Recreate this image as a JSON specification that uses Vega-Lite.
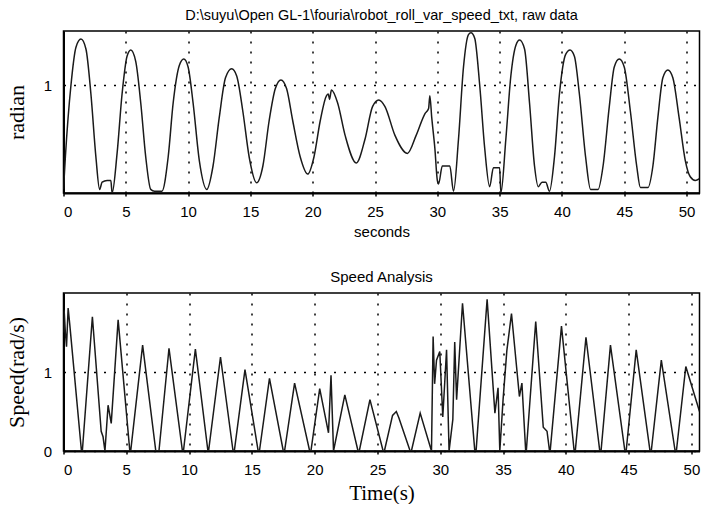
{
  "$schema": "https://vega.github.io/schema/vega-lite/v6.json",
  "background": "white",
  "padding": {"left": 4.5, "top": 6, "right": 0, "bottom": 0},
  "spacing": 29,
  "config": {
    "font": "Liberation Sans",
    "view": {"stroke": "black", "strokeWidth": 1.5},
    "axis": {
      "gridColor": "black", "gridDash": [2, 8], "gridWidth": 1.5, "gridOpacity": 1,
      "domainColor": "black", "domainWidth": 2,
      "tickColor": "black", "tickSize": 3, "tickWidth": 1.5,
      "labelFont": "Liberation Sans", "labelFontSize": 15, "labelColor": "black",
      "titleColor": "black", "titleFontWeight": "normal"
    },
    "title": {"font": "Liberation Sans", "fontSize": 14.5, "fontWeight": "normal", "color": "black"}
  },
  "vconcat": [
    {
      "width": 636,
      "height": 162,
      "title": {"text": "D:\\suyu\\Open GL-1\\fouria\\robot_roll_var_speed_txt, raw data", "offset": 8},
      "data": {"values": [
        {"t":0,"v":0.42},{"t":0.15,"v":0.6},{"t":0.6,"v":1.0},{"t":1.0,"v":1.21},{"t":1.4,"v":1.255},{"t":1.8,"v":1.2},{"t":2.2,"v":0.95},{"t":2.6,"v":0.6},{"t":2.9,"v":0.42},{"t":3.1,"v":0.46},{"t":3.5,"v":0.47},{"t":3.8,"v":0.47},{"t":3.9,"v":0.4},
        {"t":4.3,"v":0.62},{"t":4.7,"v":0.95},{"t":5.1,"v":1.16},{"t":5.4,"v":1.194},{"t":5.8,"v":1.13},{"t":6.2,"v":0.9},{"t":6.6,"v":0.6},{"t":7.0,"v":0.42},{"t":7.3,"v":0.41},{"t":7.9,"v":0.41},
        {"t":8.4,"v":0.6},{"t":8.8,"v":0.9},{"t":9.3,"v":1.11},{"t":9.65,"v":1.144},{"t":10.0,"v":1.1},{"t":10.4,"v":0.9},{"t":10.9,"v":0.58},{"t":11.5,"v":0.42},
        {"t":12.0,"v":0.55},{"t":12.5,"v":0.82},{"t":13.0,"v":1.04},{"t":13.5,"v":1.09},{"t":13.9,"v":1.05},{"t":14.4,"v":0.85},{"t":14.9,"v":0.6},{"t":15.5,"v":0.457},
        {"t":16.0,"v":0.55},{"t":16.5,"v":0.8},{"t":17.0,"v":0.98},{"t":17.45,"v":1.028},{"t":17.9,"v":0.98},{"t":18.4,"v":0.8},{"t":19.0,"v":0.6},{"t":19.6,"v":0.505},
        {"t":20.1,"v":0.6},{"t":20.6,"v":0.8},{"t":21.1,"v":0.94},{"t":21.25,"v":0.95},{"t":21.35,"v":0.92},{"t":21.5,"v":0.972},{"t":22.0,"v":0.9},{"t":22.6,"v":0.72},{"t":23.5,"v":0.567},
        {"t":24.2,"v":0.7},{"t":24.8,"v":0.88},{"t":25.3,"v":0.917},{"t":25.8,"v":0.88},{"t":26.6,"v":0.72},{"t":27.6,"v":0.62},
        {"t":28.3,"v":0.72},{"t":29.0,"v":0.84},{"t":29.3,"v":0.87},{"t":29.4,"v":0.94},{"t":29.55,"v":0.82},{"t":29.8,"v":0.65},{"t":30.0,"v":0.47},{"t":30.1,"v":0.45},{"t":30.4,"v":0.55},{"t":31.0,"v":0.55},{"t":31.3,"v":0.41},
        {"t":31.7,"v":0.7},{"t":32.1,"v":1.1},{"t":32.5,"v":1.28},{"t":32.7,"v":1.29},{"t":33.0,"v":1.26},{"t":33.4,"v":1.0},{"t":33.8,"v":0.65},{"t":34.2,"v":0.435},{"t":34.5,"v":0.54},{"t":35.0,"v":0.54},{"t":35.1,"v":0.4},
        {"t":35.5,"v":0.7},{"t":35.9,"v":1.05},{"t":36.3,"v":1.22},{"t":36.6,"v":1.25},{"t":37.0,"v":1.2},{"t":37.4,"v":0.9},{"t":37.8,"v":0.55},{"t":38.1,"v":0.435},{"t":38.4,"v":0.46},{"t":38.7,"v":0.46},{"t":39.0,"v":0.41},
        {"t":39.4,"v":0.6},{"t":39.8,"v":0.95},{"t":40.3,"v":1.17},{"t":40.65,"v":1.194},{"t":41.0,"v":1.16},{"t":41.4,"v":0.95},{"t":41.9,"v":0.6},{"t":42.3,"v":0.42},{"t":42.9,"v":0.42},
        {"t":43.3,"v":0.55},{"t":43.8,"v":0.88},{"t":44.2,"v":1.1},{"t":44.6,"v":1.144},{"t":45.0,"v":1.1},{"t":45.5,"v":0.85},{"t":46.0,"v":0.55},{"t":46.3,"v":0.43},{"t":46.9,"v":0.43},
        {"t":47.3,"v":0.55},{"t":47.7,"v":0.82},{"t":48.1,"v":1.04},{"t":48.5,"v":1.083},{"t":48.9,"v":1.04},{"t":49.4,"v":0.82},{"t":49.9,"v":0.58},{"t":50.3,"v":0.49},{"t":50.7,"v":0.47},{"t":51.04,"v":0.48}
      ]},
      "mark": {"type": "line", "interpolate": "monotone", "color": "#1a1a1a", "strokeWidth": 1.5, "clip": true},
      "encoding": {
        "x": {"field": "t", "type": "quantitative", "scale": {"domain": [0, 51.04], "nice": false},
          "axis": {"values": [0,5,10,15,20,25,30,35,40,45,50], "title": "seconds", "titleFontSize": 15, "titleFont": "Liberation Sans", "labelPadding": 8, "titlePadding": 5, "grid": true}},
        "y": {"field": "v", "type": "quantitative", "scale": {"domain": [0.4, 1.3], "nice": false, "zero": false},
          "axis": {"values": [1], "title": "radian", "titleFont": "Liberation Serif", "titleFontSize": 22, "ticks": false, "labelPadding": 12, "titlePadding": 14.5, "grid": true}}
      }
    },
    {
      "width": 636,
      "height": 158,
      "title": {"text": "Speed Analysis", "offset": 8, "fontSize": 15},
      "data": {"values": [
        {"t":0,"s":1.5},{"t":0.05,"s":1.78},{"t":0.15,"s":1.5},{"t":0.24,"s":1.32},{"t":0.37,"s":1.81},{"t":0.5,"s":1.6},{"t":1.43,"s":0},{"t":1.5,"s":0},
        {"t":2.3,"s":1.7},{"t":3.0,"s":0.25},{"t":3.15,"s":0.18},{"t":3.3,"s":0},{"t":3.55,"s":0.58},{"t":3.8,"s":0.35},{"t":4.35,"s":1.66},{"t":5.28,"s":0},{"t":5.35,"s":0},
        {"t":6.3,"s":1.34},{"t":7.35,"s":0},{"t":7.6,"s":0},{"t":8.4,"s":1.3},{"t":9.47,"s":0},{"t":9.55,"s":0},{"t":10.5,"s":1.29},{"t":11.5,"s":0},{"t":11.55,"s":0},
        {"t":12.5,"s":1.19},{"t":13.5,"s":0},{"t":13.6,"s":0},{"t":14.45,"s":1.03},{"t":15.5,"s":0},{"t":15.6,"s":0},{"t":16.4,"s":0.92},{"t":17.5,"s":0},{"t":17.6,"s":0},
        {"t":18.4,"s":0.86},{"t":19.6,"s":0},{"t":19.7,"s":0},{"t":20.4,"s":0.79},{"t":21.1,"s":0.23},{"t":21.3,"s":0.96},{"t":21.5,"s":0},{"t":22.4,"s":0.71},{"t":23.45,"s":0},{"t":23.55,"s":0},
        {"t":24.4,"s":0.65},{"t":25.45,"s":0},{"t":25.55,"s":0},{"t":26.2,"s":0.45},{"t":26.5,"s":0.5},{"t":26.7,"s":0.42},{"t":27.6,"s":0},{"t":27.7,"s":0},{"t":28.4,"s":0.48},{"t":29.3,"s":0},
        {"t":29.43,"s":1.45},{"t":29.55,"s":0.85},{"t":29.7,"s":1.15},{"t":29.96,"s":1.26},{"t":30.2,"s":0.43},{"t":30.5,"s":1.28},{"t":30.7,"s":0},{"t":31.0,"s":0.4},{"t":31.15,"s":1.38},{"t":31.3,"s":0.65},{"t":31.77,"s":1.87},
        {"t":32.75,"s":0},{"t":32.85,"s":0},{"t":33.73,"s":1.92},{"t":34.35,"s":0.48},{"t":34.6,"s":0.8},{"t":34.74,"s":0},{"t":35.0,"s":0.65},{"t":35.3,"s":1.27},{"t":35.67,"s":1.74},
        {"t":36.3,"s":0.69},{"t":36.5,"s":0.86},{"t":36.8,"s":0},{"t":36.85,"s":0},{"t":37.6,"s":1.64},{"t":38.2,"s":0.3},{"t":38.5,"s":0.25},{"t":38.7,"s":0},{"t":38.75,"s":0},
        {"t":39.65,"s":1.58},{"t":40.66,"s":0},{"t":40.75,"s":0},{"t":41.6,"s":1.44},{"t":42.7,"s":0},{"t":42.8,"s":0},{"t":43.55,"s":1.34},{"t":44.7,"s":0},{"t":44.8,"s":0},
        {"t":45.6,"s":1.28},{"t":46.7,"s":0},{"t":46.8,"s":0},{"t":47.6,"s":1.15},{"t":48.7,"s":0},{"t":48.8,"s":0},{"t":49.55,"s":1.07},{"t":50.64,"s":0.5}
      ]},
      "mark": {"type": "line", "color": "#1a1a1a", "strokeWidth": 1.5, "clip": true},
      "encoding": {
        "x": {"field": "t", "type": "quantitative", "scale": {"domain": [0, 50.64], "nice": false},
          "axis": {"values": [0,5,10,15,20,25,30,35,40,45,50], "title": "Time(s)", "titleFont": "Liberation Serif", "titleFontSize": 21, "labelPadding": 8, "titlePadding": 5, "grid": true}},
        "y": {"field": "s", "type": "quantitative", "scale": {"domain": [0, 2], "nice": false},
          "axis": {"values": [0, 1], "title": "Speed(rad/s)", "titleFont": "Liberation Serif", "titleFontSize": 22, "ticks": false, "labelPadding": 12, "titlePadding": 14.5, "grid": true}}
      }
    }
  ]
}
